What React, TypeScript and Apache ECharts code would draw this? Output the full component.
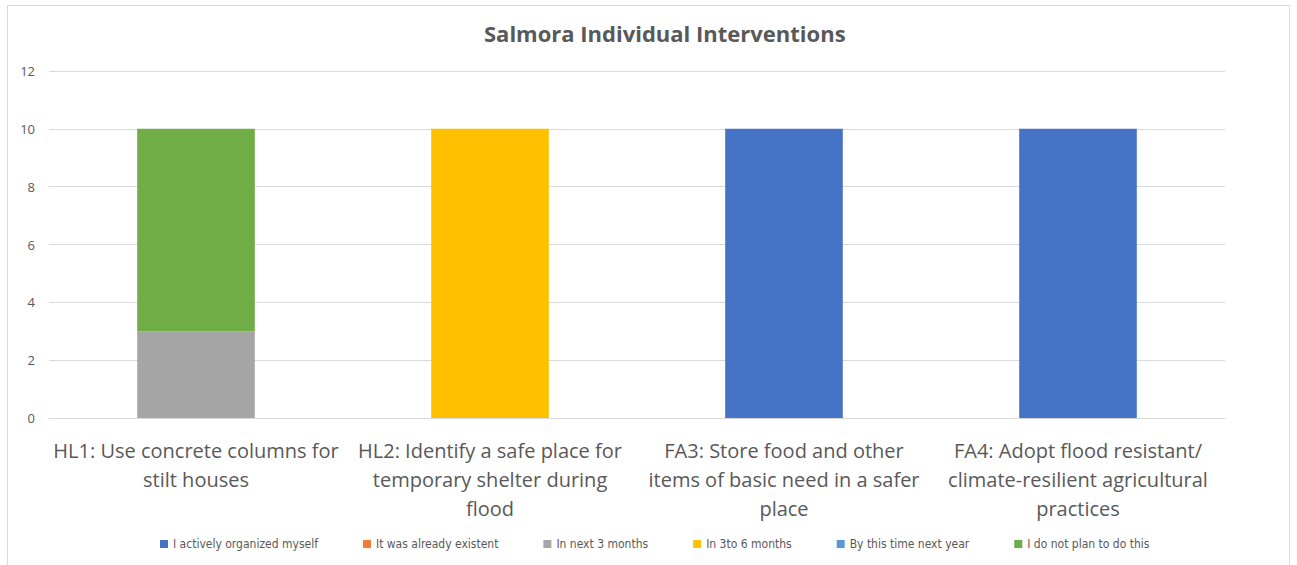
import React, { useEffect, useRef } from "react";
import * as echarts from "echarts";

const categories = [
  "HL1: Use concrete columns for\nstilt houses",
  "HL2: Identify a safe place for\ntemporary shelter during\nflood",
  "FA3: Store food and other\nitems of basic need in a safer\nplace",
  "FA4: Adopt flood resistant/\nclimate-resilient agricultural\npractices",
];
const seriesNames = [
  "I actively organized myself",
  "It was already existent",
  "In next 3 months",
  "In 3to 6 months",
  "By this time next year",
  "I do not plan to do this",
];
const organized = [0, 0, 10, 10];
const existent = [0, 0, 0, 0];
const next3 = [3, 0, 0, 0];
const in3to6 = [0, 10, 0, 0];
const nextYear = [0, 0, 0, 0];
const notPlan = [7, 0, 0, 0];
const seriesValues = [organized, existent, next3, in3to6, nextYear, notPlan];
const colors = ["#4472C4", "#ED7D31", "#A5A5A5", "#FFC000", "#5B9BD5", "#70AD47"];

export default function App() {
  const ref = useRef<HTMLDivElement>(null);
  useEffect(() => {
    if (!ref.current) return;
    const chart = echarts.init(ref.current, null, { renderer: "svg" });
    const font = "'Open Sans', 'Noto Sans', sans-serif";
    chart.setOption({
      animation: false,
      color: colors,
      textStyle: { fontFamily: font },
      title: {
        text: "Salmora Individual Interventions",
        left: 479,
        top: 17,
        textStyle: { fontSize: 22, fontWeight: "bold", color: "#595959", fontFamily: font },
      },
      graphic: [
        {
          type: "rect",
          shape: { x: 7.5, y: 5.5, width: 1282, height: 570 },
          style: { fill: "none", stroke: "#d9d9d9", lineWidth: 1 },
          silent: true,
          z: -1,
        },
      ],
      legend: {
        bottom: 10,
        left: 155,
        itemWidth: 8,
        itemHeight: 8,
        itemGap: 45,
        icon: "rect",
        textStyle: { fontSize: 12, color: "#595959", fontFamily: "'DejaVu Sans Condensed', 'Liberation Sans Narrow', sans-serif" },
        data: seriesNames,
      },
      grid: { left: 49, right: 72, top: 71, bottom: 147, containLabel: false },
      xAxis: {
        type: "category",
        data: categories,
        axisTick: { show: false },
        axisLine: { lineStyle: { color: "#d9d9d9" } },
        axisLabel: {
          color: "#595959",
          fontSize: 20,
          lineHeight: 29,
          margin: 18,
          interval: 0,
          fontFamily: font,
        },
      },
      yAxis: {
        type: "value",
        min: 0,
        max: 12,
        interval: 2,
        axisLine: { show: false },
        axisTick: { show: false },
        splitLine: { lineStyle: { color: "#d9d9d9" } },
        axisLabel: { color: "#595959", fontSize: 13, margin: 14, fontFamily: font },
      },
      series: seriesNames.map((name, i) => ({
        name,
        type: "bar",
        stack: "total",
        barWidth: "40%",
        data: seriesValues[i],
        itemStyle: { color: colors[i] },
      })),
    });
    return () => chart.dispose();
  }, []);
  return (
    <div
      ref={ref}
      style={{ position: "fixed", left: 0, top: 0, width: 1297, height: 565, background: "#fff" }}
    />
  );
}
